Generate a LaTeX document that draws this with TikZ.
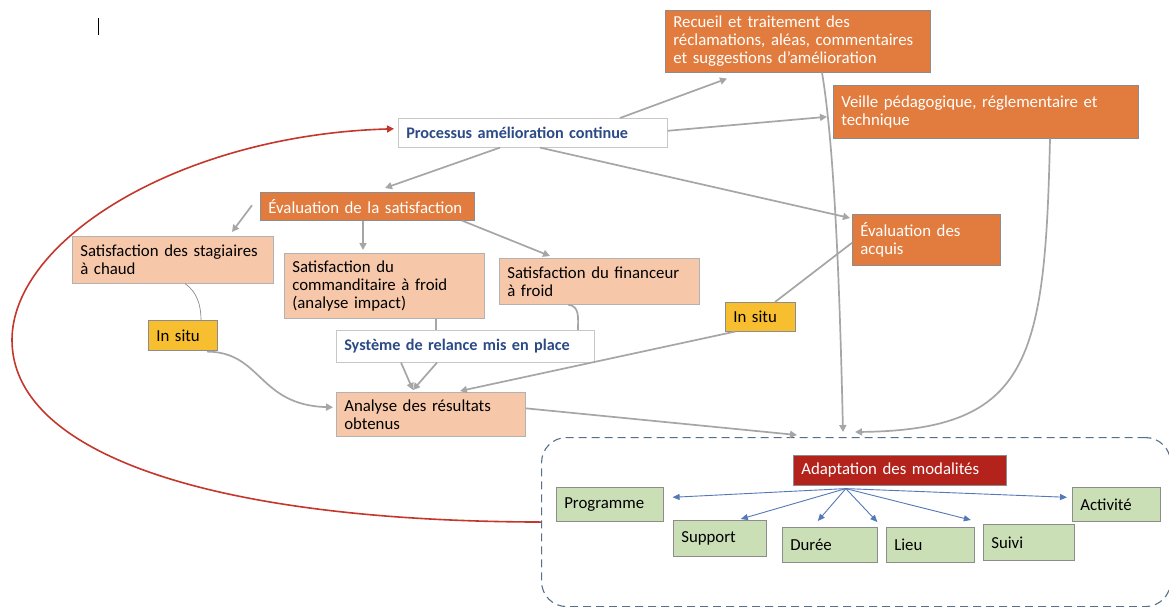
\documentclass[tikz,border=0pt]{standalone}
\usepackage{fontspec}
\setmainfont{Carlito}
\usetikzlibrary{arrows.meta,calc}
\definecolor{orng}{HTML}{E17C3E}
\definecolor{peach}{HTML}{F6C8A9}
\definecolor{yel}{HTML}{F7BE2F}
\definecolor{grn}{HTML}{CADFB6}
\definecolor{dred}{HTML}{B3221B}
\definecolor{blutxt}{HTML}{2B4A86}
\definecolor{arrgray}{HTML}{A6A6A6}
\definecolor{blueline}{HTML}{5479B8}
\definecolor{framec}{HTML}{56708C}
\definecolor{redline}{HTML}{C4372C}
\newcommand\mybox[7]{\node[#2, minimum width=#5pt, minimum height=#6pt, text width=#5pt-16pt] (#1) at (#3,#4) {#7};}
\begin{document}
\begin{tikzpicture}[x=1pt,y=-1pt,
  font=\fontsize{16.8}{18}\selectfont,
  base/.style={draw=black!40, line width=0.6pt, anchor=north west, align=left, inner xsep=8pt, inner ysep=2pt},
  obox/.style={base, fill=orng, text=white, draw=black!45},
  pbox/.style={base, fill=peach, draw=black!30},
  gbox/.style={base, fill=grn, draw=black!45},
  ybox/.style={base, fill=yel, draw=black!45},
  wbox/.style={base, fill=white, draw=black!22, text=blutxt, font=\fontsize{16.2}{18}\selectfont\bfseries},
  rbox/.style={base, fill=dred, text=white, draw=black!45},
  garr/.style={draw=arrgray, line width=1.7pt, -{Triangle[width=7pt,length=7pt]}},
  gline/.style={draw=arrgray, line width=1.7pt},
  barr/.style={draw=blueline, line width=0.9pt, -{Triangle[width=6pt,length=7pt]}}]
\useasboundingbox (0,0) rectangle (1169,607);
\fill[white] (0,0) rectangle (1169,607);
% cursor mark
\coordinate (c1) at (98,18);
\coordinate (c2) at (98,35);
\draw[black, line width=0.9pt] (c1) -- (c2);
% frame
\node[draw=framec, dashed, dash pattern=on 8pt off 5pt, line width=1.1pt, rounded corners=25pt,
  anchor=north west, minimum width=629pt, minimum height=169pt, inner sep=0pt] (frame) at (541,437) {};
% boxes
\mybox{rec}{obox}{665}{10}{265}{62}{Recueil et traitement des\\ réclamations, aléas, commentaires\\ et suggestions d’amélioration}
\mybox{veille}{obox}{833}{85}{305}{53}{Veille pédagogique, réglementaire et\\ technique}
\mybox{proc}{wbox}{398}{118}{269}{29}{Processus amélioration continue}
\mybox{evsat}{obox}{260}{192}{214}{28}{Évaluation de la satisfaction}
\mybox{stag}{pbox}{72}{236}{201}{47}{Satisfaction des stagiaires\\ à chaud}
\mybox{comm}{pbox}{284}{253}{200}{65}{Satisfaction du\\ commanditaire à froid\\ (analyse impact)}
\mybox{fin}{pbox}{499}{258}{200}{46}{Satisfaction du financeur\\ à froid}
\mybox{acq}{obox}{852}{214}{148}{51}{Évaluation des\\ acquis}
\mybox{insl}{ybox}{148}{320}{69}{30}{In situ}
\mybox{insr}{ybox}{725}{302}{70}{29}{In situ}
\mybox{rel}{wbox}{336}{330}{258}{32}{Système de relance mis en place}
\mybox{ana}{pbox}{336}{392}{189}{44}{Analyse des résultats\\ obtenus}
\mybox{adapt}{rbox}{793}{455}{213}{30}{Adaptation des modalités}
\mybox{prog}{gbox}{556}{487}{107}{34}{Programme}
\mybox{supp}{gbox}{673}{520}{93}{36}{Support}
\mybox{duree}{gbox}{782}{527}{95}{35}{Durée}
\mybox{lieu}{gbox}{886}{527}{88}{35}{Lieu}
\mybox{suivi}{gbox}{983}{524}{91}{36}{Suivi}
\mybox{act}{gbox}{1072}{487}{88}{34}{Activité}
% gray connectors
\draw[garr] ($(proc.north west)+(222,0)$) -- ($(rec.south west)+(62,6)$);
\draw[garr] ($(proc.east)+(0,-2)$) -- ($(veille.west)+(-6,5)$);
\draw[garr] ($(proc.south west)+(142,0)$) -- ($(acq.north west)+(-2,4)$);
\draw[garr] ($(proc.south west)+(102,0)$) -- ($(evsat.north west)+(125,-4)$);
\draw[garr] ($(evsat.west)+(-8,-1)$) -- ($(stag.north west)+(160,-4)$);
\draw[garr] ($(evsat.south west)+(103,0)$) -- ($(comm.north west)+(79,-3)$);
\draw[garr] ($(evsat.south west)+(202,0)$) -- ($(fin.north west)+(51,-2)$);
\draw[draw=black!45, line width=0.7pt] ($(stag.south west)+(113,0)$) .. controls (197,292) and (201,305) .. ($(insl.north west)+(53,0)$);
\draw[garr] ($(insl.south west)+(59,1)$) .. controls (262,352) and (258,405) .. ($(ana.west)+(-3,-7)$);
\draw[gline] ($(comm.south west)+(152,0)$) -- ($(rel.north west)+(100,0)$);
\draw[gline] ($(fin.south west)+(69,0)$) .. controls (580,306) and (578,318) .. ($(rel.north west)+(242,0)$);
\draw[garr] ($(rel.south west)+(65,0)$) -- ($(ana.north west)+(77,-2)$);
\draw[garr] ($(rel.south west)+(101,0)$) -- ($(ana.north west)+(77,-2)$);
\draw[garr] ($(insr.south west)+(10,0)$) -- ($(ana.north west)+(124,-1)$);
\draw[gline] ($(acq.west)+(0,3)$) -- ($(insr.north west)+(50,0)$);
\draw[garr] ($(rec.south west)+(157,0)$) .. controls (835,150) and (840,300) .. ($(frame.north west)+(302,-5)$);
\draw[garr] ($(veille.south west)+(217,0)$) .. controls (1045,360) and (1030,430) .. ($(frame.north west)+(314,-5)$);
\draw[garr] ($(ana.east)+(0,-6)$) -- ($(frame.north west)+(256,-2)$);
% red loop
\draw[draw=redline, line width=1.6pt, -{Triangle[width=7pt,length=7pt]}]
  (frame.west) .. controls (200,521) and (12,450) .. (12,340)
  .. controls (12,240) and (180,135) .. ($(proc.west)+(-4,-4)$);
% blue arrows
\coordinate (o) at ($(adapt.south)+(-54,3)$);
\draw[barr] (o) -- ($(prog.east)+(9,-7)$);
\draw[barr] (o) -- ($(supp.north)+(21,-1)$);
\draw[barr] (o) -- ($(duree.north)+(-12,-6)$);
\draw[barr] (o) -- ($(lieu.north)+(-53,-5)$);
\draw[barr] (o) -- ($(suivi.north)+(-58,-4)$);
\draw[barr] (o) -- ($(act.west)+(-5,-7)$);
\end{tikzpicture}
\end{document}
